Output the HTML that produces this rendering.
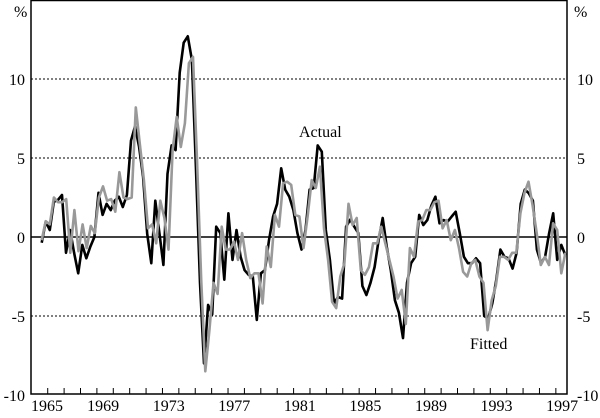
<!DOCTYPE html>
<html><head><meta charset="utf-8"><style>
body{margin:0;background:#fff}
svg text{font-family:"Liberation Serif",serif;font-size:16px;fill:#000}
</style></head><body>
<svg id="chart" width="600" height="413" xmlns="http://www.w3.org/2000/svg"></svg>
<script>
const yTicks=[10,5,0,-5,-10];
const yLabels=["10","5","0","-5","-10"];
const xLabelYears=[1965,1969,1973,1977,1981,1985,1989,1993,1997];
const actualValues=[-0.36,0.97,0.44,2.23,2.34,2.66,-1.0,0.44,-1.0,-2.3,-0.5,-1.35,-0.6,0,2.8,1.4,2.1,1.7,2.3,2.55,1.9,2.66,6.1,7.0,5.7,3.8,0.2,-1.66,2.3,0.25,-1.77,4.0,5.8,5.5,10.4,12.3,12.7,11.2,4.45,-2.9,-8.0,-4.3,-4.9,0.65,0.25,-2.7,1.5,-1.45,0.44,-1.25,-2.1,-2.4,-2.5,-5.25,-2.3,-2.1,-0.2,1.3,2.1,4.35,3.0,2.55,1.7,0.25,
-0.8,0.44,3.0,3.1,5.8,5.4,0.44,-1.45,-4.2,-3.8,-3.9,0.65,1.1,0.65,0.25,-3.1,-3.67,-2.9,-1.9,-0.2,1.2,-0.6,-2.1,-4.0,-4.8,-6.4,-2.9,-1.66,-1.25,1.4,0.76,1.07,2.0,2.55,0.87,1.07,0.97,1.3,1.6,0.23,-1.25,-1.66,-1.66,-1.35,-1.66,-5.0,-5.15,-4.2,-2.7,-0.8,-1.25,-1.35,-2.0,-1.0,2.1,3.0,2.77,2.3,-0.8,-1.66,-1.25,0.23,1.5,-1.45,-0.5,-1.15];
const fittedValues=[-0.2,1.0,0.8,2.5,2.2,2.2,2.4,-1.0,1.7,-0.9,0.8,-0.7,0.7,0.25,2.5,3.2,2.3,2.4,1.6,4.1,2.5,2.4,2.5,8.2,5.9,3.6,0.55,0.8,-0.4,2.3,1.2,-0.8,5.5,7.6,5.7,7.2,11.0,11.4,4.7,-2.7,-8.5,-5.9,-2.9,-3.6,0.65,-0.8,-0.8,-0.3,-1.45,0.25,-1.45,-2.6,-2.3,-2.3,-4.2,-0.6,-1.9,1.4,0.65,3.4,3.5,3.3,1.4,1.3,
-0.7,1.3,3.6,3.1,4.45,0.55,-1.45,-4.1,-4.5,-2.5,-1.66,2.1,0.76,1.2,-2.1,-2.4,-1.9,-0.4,-0.4,0.65,-0.4,-1.45,-2.5,-3.9,-3.35,-5.5,-0.7,-1.25,0.97,1.07,1.7,1.7,2.2,2.3,0.55,1.07,-0.2,0.44,-0.7,-2.2,-2.5,-1.66,-1.45,-2.5,-2.9,-5.9,-4.0,-3.1,-1.25,-1.25,-1.45,-1.0,-1.0,1.5,2.77,3.5,2.0,0.25,-1.77,-1.25,-1.77,0.87,0.44,-2.3,-1.0];
const startDate=1965.25, endDate=1997.2;

const svg=document.getElementById('chart');
const NS="http://www.w3.org/2000/svg";
const L=31,R=567,T=0,B=394;
const xMin=1964.6,xMax=1997.3;
function xs(t){return L+(t-xMin)/(xMax-xMin)*(R-L);}
function ys(v){return 237-v*15.8;}
function mk(tag,attrs){const e=document.createElementNS(NS,tag);for(const k in attrs)e.setAttribute(k,attrs[k]);if(tag==='text'){e.setAttribute('font-family','Liberation Serif, serif');e.setAttribute('font-size','16');}svg.appendChild(e);return e;}

yTicks.forEach((v,i)=>{
  if(v===-10) return;
  const g=mk('line',{x1:L,x2:R,y1:ys(v),y2:ys(v),stroke:'#000','stroke-width':v===0?1.5:1,'stroke-dasharray':v===0?'':'2,2'});
  
  
});
yTicks.forEach((v,i)=>{
  const a=mk('text',{x:25,y:ys(v)+6,'text-anchor':'end'});a.textContent=yLabels[i];
  
  
  const b=mk('text',{x:577,y:ys(v)+6});b.textContent=yLabels[i];
  
  
});
for(let yr=1965;yr<=1996;yr++){
  const x=xs(yr+0.62);
  const t=mk('line',{x1:x,x2:x,y1:B,y2:B-6,stroke:'#000','stroke-width':1});
  
  
}
xLabelYears.forEach((yr,i)=>{
  let x=xs(yr);
  const e=mk('text',{x:i===0?31:x,y:411,'text-anchor':i===0?'start':'middle'});
  e.textContent=String(yr);
  
  
});
function series(vals,color,name){
  const n=vals.length;
  const pts=vals.map((v,i)=>xs(startDate+i*(endDate-startDate)/(n-1)).toFixed(1)+','+ys(v).toFixed(1)).join(' ');
  const p=mk('polyline',{points:pts,fill:'none',stroke:color,'stroke-width':2.6,'stroke-linejoin':'round'});
  
  
}
series(actualValues,'#000','actual-line');
series(fittedValues,'#999','fitted-line');
const fr=mk('rect',{x:L,y:T+0.5,width:R-L,height:B-T-0.5,fill:'none',stroke:'#000','stroke-width':1.5});


const p1=mk('text',{x:14,y:17});p1.textContent='%';


const p2=mk('text',{x:574,y:17});p2.textContent='%';


const la=mk('text',{x:299,y:137});la.textContent='Actual';


const lf=mk('text',{x:470,y:349});lf.textContent='Fitted';


</script>
</body></html>
